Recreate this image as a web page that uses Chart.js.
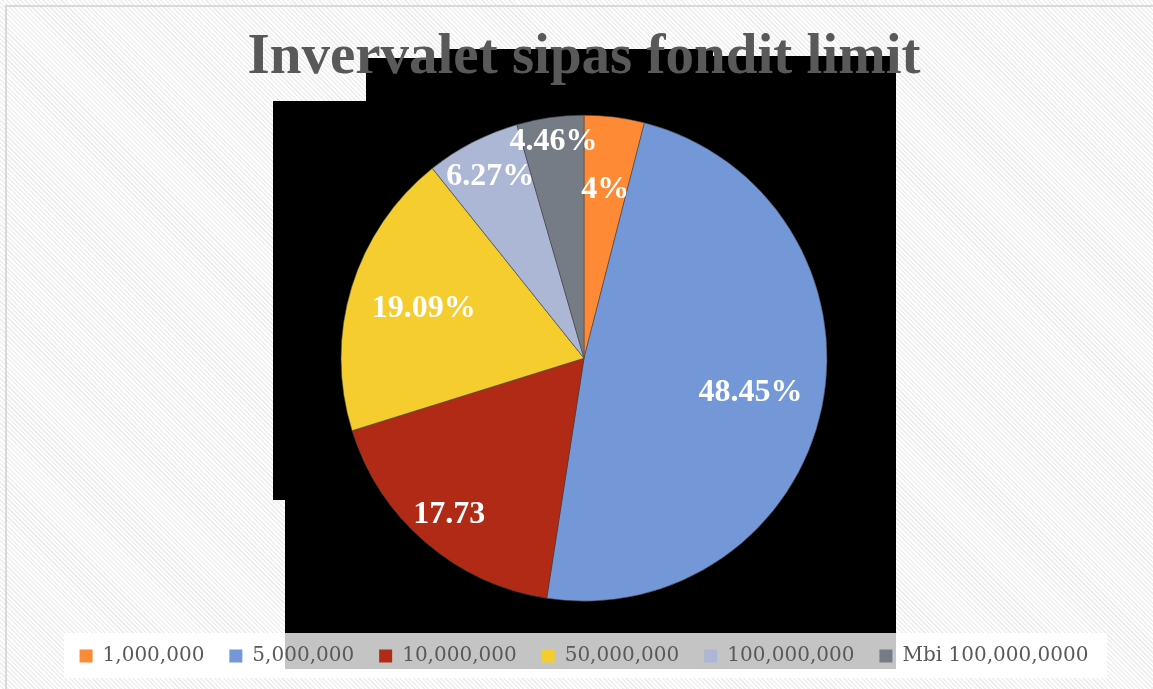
<!DOCTYPE html>
<html>
<head>
<meta charset="utf-8">
<script src="https://cdn.jsdelivr.net/npm/chart.js@4.4.1/dist/chart.umd.min.js"></script>
<style>
  html, body { margin: 0; padding: 0; }
  body {
    width: 1153px; height: 689px; overflow: hidden; position: relative;
    background: repeating-linear-gradient(45deg, #ffffff 0 1.6px, #efefef 1.6px 3.2px);
  }
  #frame {
    position: absolute; left: 5px; top: 5px; width: 1160px; height: 700px;
    border-left: 2px solid #d9d9d9; border-top: 2px solid #d9d9d9;
  }
  #chart { position: absolute; left: 0; top: 0; }
</style>
</head>
<body>
<div id="frame"></div>
<canvas id="chart" width="1153" height="689"></canvas>
<script>
// === Data ===
const categories = ["1,000,000", "5,000,000", "10,000,000", "50,000,000", "100,000,000", "Mbi 100,000,0000"];
const shares = [4, 48.45, 17.73, 19.09, 6.27, 4.46];
const shareLabels = ["4%", "48.45%", "17.73", "19.09%", "6.27%", "4.46%"];
const sliceColors = ["#FF8A35", "#7498D7", "#B02A16", "#F5CD2F", "#ABB7D5", "#767C86"];

// how far out each label sits (fraction of radius), Excel "best fit" look
const labelRadius = [0.7, 0.70, 0.85, 0.69, 0.84, 0.9];

// === Backdrop shapes behind the pie (black blocks + legend strip) ===
const backdrop = {
  id: "backdrop",
  beforeDraw(chart) {
    const ctx = chart.ctx;
    ctx.save();
    ctx.fillStyle = "#ffffff";
    ctx.fillRect(64, 633, 1043, 45);
    ctx.fillStyle = "#000000";
    ctx.fillRect(449, 49, 264, 10);
    ctx.fillRect(366, 58, 530, 45);
    ctx.fillRect(713, 56, 183, 3);
    ctx.fillRect(273, 101, 623, 399);
    ctx.fillRect(285, 500, 611, 133);
    ctx.fillStyle = "#c4c4c4";
    ctx.fillRect(285, 633, 611, 36);
    ctx.restore();
  }
};

// === Slice labels ===
const sliceLabels = {
  id: "sliceLabels",
  afterDatasetsDraw(chart) {
    const ctx = chart.ctx;
    const arcs = chart.getDatasetMeta(0).data;
    ctx.save();
    ctx.fillStyle = "#ffffff";
    ctx.font = "bold 32px 'Liberation Serif', serif";
    ctx.textAlign = "center";
    ctx.textBaseline = "middle";
    arcs.forEach((arc, i) => {
      const { x, y, startAngle, endAngle, outerRadius } = arc.getProps(["x", "y", "startAngle", "endAngle", "outerRadius"], true);
      const mid = (startAngle + endAngle) / 2;
      const r = outerRadius * labelRadius[i];
      ctx.fillText(shareLabels[i], x + Math.cos(mid) * r, y + Math.sin(mid) * r);
    });
    ctx.restore();
  }
};

const defaultLabels = Chart.controllers.pie.overrides.plugins.legend.labels.generateLabels;

new Chart(document.getElementById("chart"), {
  type: "pie",
  data: {
    labels: categories,
    datasets: [{
      data: shares,
      backgroundColor: sliceColors,
      borderColor: "rgba(70,70,70,0.7)",
      borderWidth: 0.8
    }]
  },
  options: {
    responsive: false,
    devicePixelRatio: 1,
    animation: false,
    radius: 243,
    layout: { padding: { left: 15, right: 0, top: 24, bottom: 13 } },
    plugins: {
      title: {
        display: true,
        text: "Invervalet sipas fondit limit",
        color: "#595959",
        font: { family: "'Liberation Serif', serif", size: 57, weight: "bold", lineHeight: 1.2 },
        padding: { top: 0, bottom: 3 }
      },
      legend: {
        position: "bottom",
        labels: {
          color: "#595959",
          font: { family: "'DejaVu Serif', serif", size: 20 },
          boxWidth: 13,
          boxHeight: 13,
          padding: 25,
          generateLabels(chart) {
            return defaultLabels(chart).map((item) => ({ ...item, lineWidth: 0 }));
          }
        }
      },
      tooltip: { enabled: false }
    }
  },
  plugins: [backdrop, sliceLabels]
});
</script>
</body>
</html>
